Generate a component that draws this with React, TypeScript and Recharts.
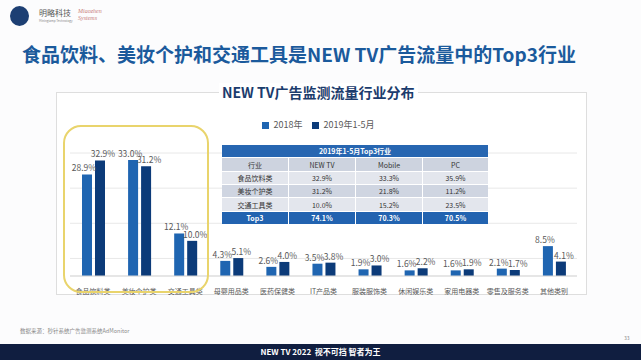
import React from 'react';
import { BarChart, Bar, XAxis, YAxis, CartesianGrid, Legend, LabelList } from 'recharts';

const categories = ['食品饮料类', '美妆个护类', '交通工具类', '母婴用品类', '医药保健类', 'IT产品类', '服装服饰类', '休闲娱乐类', '家用电器类', '零售及服务类', '其他类别'];
const values2018 = [28.9, 33.0, 12.1, 4.3, 2.6, 3.5, 1.9, 1.6, 1.6, 2.1, 8.5];
const values2019 = [32.9, 31.2, 10.0, 5.1, 4.0, 3.8, 3.0, 2.2, 1.9, 1.7, 4.1];
const yTicks = [0, 5, 10, 15, 20, 25, 30, 35];

const tableTitle = '2019年1-5月Top3行业';
const tableHead = ['行业', 'NEW TV', 'Mobile', 'PC'];
const tableRows = [
  ['食品饮料类', '32.9%', '33.3%', '35.9%'],
  ['美妆个护类', '31.2%', '21.8%', '11.2%'],
  ['交通工具类', '10.0%', '15.2%', '23.5%'],
];
const tableTotal = ['Top3', '74.1%', '70.3%', '70.5%'];

const FONT = '"Noto Sans CJK SC", "Noto Sans", sans-serif';
const C2018 = '#1f65b1';
const C2019 = '#0c3b79';

const data = categories.map((name, i) => ({ name, y2018: values2018[i], y2019: values2019[i] }));

const colW = [66, 67, 67, 66];
const rowBg = ['#e3e6ed', '#cfd5e1', '#e3e6ed'];
const rowH = [13, 13, 14];

const pct = (v: number) => `${v.toFixed(1)}%`;

const Row: React.FC<{ cells: string[]; bg: string; color: string; bold?: boolean; h: number }> = ({ cells, bg, color, bold, h }) => (
  <div style={{ display: 'flex', height: h }}>
    {cells.map((c, i) => (
      <div
        key={i}
        style={{
          width: colW[i],
          background: bg,
          color,
          fontWeight: bold ? 700 : 400,
          borderLeft: i > 0 ? '1px solid #ffffff' : 'none',
          borderTop: '1px solid #ffffff',
          boxSizing: 'border-box',
          display: 'flex',
          alignItems: 'center',
          justifyContent: 'center',
        }}
      >
        {c}
      </div>
    ))}
  </div>
);

export default function App() {
  return (
    <div style={{ position: 'absolute', left: 0, top: 0, width: 641, height: 360, background: '#fcfcfd', overflow: 'hidden', fontFamily: FONT }}>
      {/* logo */}
      <div style={{ position: 'absolute', left: 10, top: 6, width: 19, height: 20, borderRadius: '50%', background: '#1d3f73' }} />
      <div style={{ position: 'absolute', left: 39, top: 8, fontSize: 8, color: '#555', lineHeight: '10px' }}>明略科技</div>
      <div style={{ position: 'absolute', left: 39, top: 19, fontSize: 3, color: '#888', lineHeight: '4px' }}>Mininglamp Technology</div>
      <div style={{ position: 'absolute', left: 78, top: 8, fontSize: 6, color: '#c9807c', lineHeight: '7px', fontFamily: 'serif', fontStyle: 'italic' }}>Miaozhen<br />Systems</div>

      {/* page title */}
      <div style={{ position: 'absolute', left: 22, top: 42, fontSize: 19, fontWeight: 700, color: '#1b5a9c', lineHeight: '24px', whiteSpace: 'nowrap' }}>
        食品饮料、美妆个护和交通工具是NEW TV广告流量中的Top3行业
      </div>

      {/* panel */}
      <div style={{ position: 'absolute', left: 56, top: 92, width: 531, height: 203, border: '1px solid #dedede', boxSizing: 'border-box', background: '#ffffff' }} />
      <div style={{ position: 'absolute', left: 219, top: 83, padding: '0 3px', background: '#ffffff', fontSize: 14, fontWeight: 700, color: '#1b3c6d', lineHeight: '18px', whiteSpace: 'nowrap' }}>
        NEW TV广告监测流量行业分布
      </div>

      <div style={{ position: 'absolute', left: 56, top: 92 }}>
        <BarChart width={531} height={203} data={data} margin={{ top: 48, right: 10, bottom: 0, left: 14 }} barSize={10} barGap={3}>
          <CartesianGrid vertical={false} stroke="#e8e8e8" />
          <XAxis dataKey="name" interval={0} height={19} tickLine={false} axisLine={{ stroke: '#d9d9d9' }} tick={{ fontSize: 7, fill: '#595959', fontFamily: FONT }} tickMargin={7} />
          <YAxis hide domain={[0, 35]} ticks={yTicks} />
          <Legend
            verticalAlign="top"
            align="center"
            iconType="square"
            iconSize={7}
            wrapperStyle={{ top: 26, fontSize: 9, fontFamily: FONT }}
            formatter={(v) => <span style={{ color: '#595959' }}>{v}</span>}
          />
          <Bar dataKey="y2018" name="2018年" fill={C2018} isAnimationActive={false}>
            <LabelList dataKey="y2018" position="top" offset={3} dx={-3} formatter={pct} style={{ fontSize: 8.5, fill: '#595959', fontFamily: FONT }} />
          </Bar>
          <Bar dataKey="y2019" name="2019年1-5月" fill={C2019} isAnimationActive={false}>
            <LabelList dataKey="y2019" position="top" offset={3} dx={3} formatter={pct} style={{ fontSize: 8.5, fill: '#595959', fontFamily: FONT }} />
          </Bar>
        </BarChart>
      </div>

      {/* table */}
      <div style={{ position: 'absolute', left: 222, top: 145, width: 266, fontSize: 7, lineHeight: '8px', color: '#333' }}>
        <div style={{ height: 12, background: '#2766b1', color: '#fff', fontWeight: 700, display: 'flex', alignItems: 'center', justifyContent: 'center' }}>{tableTitle}</div>
        <Row cells={tableHead} bg="#cdd3df" color="#333" h={14} />
        {tableRows.map((r, i) => (
          <Row key={i} cells={r} bg={rowBg[i]} color="#333" h={rowH[i]} />
        ))}
        <Row cells={tableTotal} bg="#2263b0" color="#ffffff" bold h={13} />
      </div>

      {/* highlight box */}
      <div style={{ position: 'absolute', left: 63, top: 125, width: 146, height: 168, border: '2px solid #e9d46c', borderRadius: 18, boxSizing: 'border-box' }} />

      {/* footer */}
      <div style={{ position: 'absolute', left: 20, top: 327, fontSize: 5.5, color: '#8a8a8a', whiteSpace: 'nowrap' }}>数据来源：秒针系统广告监测系统AdMonitor</div>
      <div style={{ position: 'absolute', left: 624, top: 334, fontSize: 5, color: '#8a8a8a' }}>33</div>
      <div style={{ position: 'absolute', left: 0, top: 344, width: 641, height: 16, background: '#101e40' }} />
      <div style={{ position: 'absolute', left: 0, top: 344, width: 641, height: 16, textAlign: 'center', color: '#ffffff', fontSize: 8, fontWeight: 700, lineHeight: '16px' }}>
        NEW TV 2022&nbsp;&nbsp;视不可挡 智者为王
      </div>
    </div>
  );
}
